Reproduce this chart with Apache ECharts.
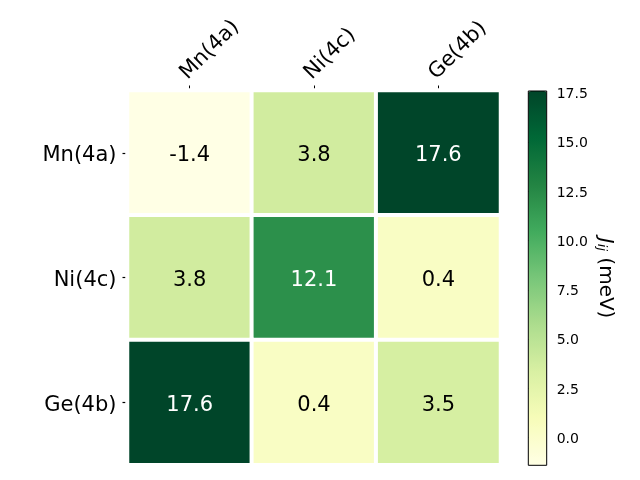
<!DOCTYPE html>
<html>
<head>
<meta charset="utf-8">
<script src="https://cdn.jsdelivr.net/npm/echarts@6/dist/echarts.min.js"></script>
<style>
html,body{margin:0;padding:0;background:#fff;}
#chart{width:640px;height:480px;}
</style>
</head>
<body>
<div id="chart"></div>
<script>
const rowLabels = ['Mn(4a)', 'Ni(4c)', 'Ge(4b)'];
const colLabels = ['Mn(4a)', 'Ni(4c)', 'Ge(4b)'];
const values = [
  [-1.4, 3.8, 17.6],
  [3.8, 12.1, 0.4],
  [17.6, 0.4, 3.5]
];
const cbMin = -1.4;
const cbMax = 17.6;
const cbTicks = [0, 2.5, 5, 7.5, 10, 12.5, 15, 17.5];
const ylGn = ['#ffffe5', '#f7fcb9', '#d9f0a3', '#addd8e', '#78c679', '#41ab5d', '#238443', '#006837', '#004529'];

const threshold = (cbMin + cbMax) / 2;
const data = [];
values.forEach((row, r) => {
  row.forEach((v, c) => {
    data.push({
      value: [c, r, v],
      label: { color: v > threshold ? '#ffffff' : '#000000' }
    });
  });
});

const FONT = 'DejaVu Sans';
const chart = echarts.init(document.getElementById('chart'), null, { renderer: 'canvas' });
chart.setOption({
  animation: false,
  backgroundColor: '#ffffff',
  textStyle: { fontFamily: FONT },
  grid: [
    { left: 127.5, top: 90.5, width: 373, height: 374.2, containLabel: false },
    { left: 528.3, top: 91, width: 18.4, height: 374.3, show: true, borderColor: '#000', borderWidth: 1, backgroundColor: 'transparent', z: 10 }
  ],
  xAxis: [
    {
      gridIndex: 0, type: 'category', data: colLabels, position: 'top',
      axisLine: { show: false },
      axisTick: { show: true, alignWithLabel: true, length: 5, lineStyle: { color: '#000', width: 1 } },
      axisLabel: {
        rotate: -45, align: 'left', verticalAlign: 'bottom', margin: 4, padding: [0, 0, 1, 3],
        fontFamily: FONT, fontSize: 21, color: '#000', interval: 0
      },
      splitLine: { show: false }
    },
    { gridIndex: 1, type: 'value', show: false, min: 0, max: 1 }
  ],
  yAxis: [
    {
      gridIndex: 0, type: 'category', data: rowLabels, inverse: true,
      axisLine: { show: false },
      axisTick: { show: true, alignWithLabel: true, length: 5, lineStyle: { color: '#000', width: 1.2 } },
      axisLabel: {
        margin: 11, fontFamily: FONT, fontSize: 21, color: '#000', interval: 0,
        formatter: v => '{t|' + v + '}',
        rich: { t: { fontFamily: FONT, fontSize: 21, color: '#000', padding: [6, 0, 0, 0] } }
      },
      splitLine: { show: false }
    },
    {
      gridIndex: 1, type: 'value', position: 'right', min: cbMin, max: cbMax,
      axisLine: { show: false },
      axisTick: { show: true, length: 5, customValues: cbTicks, lineStyle: { color: '#000', width: 1 } },
      axisLabel: {
        show: true, margin: 10, fontFamily: FONT, fontSize: 14, color: '#000',
        customValues: cbTicks,
        formatter: v => '{t|' + Number(v).toFixed(1) + '}',
        rich: { t: { fontFamily: FONT, fontSize: 14, color: '#000', padding: [3, 0, 0, 0] } }
      },
      splitLine: { show: false },
      name: '{j|J}{s|ij} (meV)',
      nameLocation: 'middle',
      nameRotate: -90,
      nameGap: 59,
      nameTextStyle: {
        fontFamily: FONT, fontSize: 20, color: '#000', align: 'center', verticalAlign: 'middle',
        rich: {
          j: { fontFamily: FONT, fontSize: 20, fontStyle: 'italic', color: '#000' },
          s: { fontFamily: FONT, fontSize: 13, fontStyle: 'italic', color: '#000', verticalAlign: 'bottom', padding: [8, 0, 0, 0] }
        }
      }
    }
  ],
  visualMap: {
    type: 'continuous',
    min: cbMin, max: cbMax,
    seriesIndex: 0,
    calculable: false,
    hoverLink: false,
    orient: 'vertical',
    left: 528.3, top: 91,
    itemWidth: 18.4, itemHeight: 374.3,
    padding: 0,
    inRange: { color: ylGn },
    textStyle: { color: 'transparent' }
  },
  series: [{
    type: 'heatmap',
    xAxisIndex: 0, yAxisIndex: 0,
    data: data,
    itemStyle: { borderColor: '#ffffff', borderWidth: 4 },
    label: { show: true, fontFamily: FONT, fontSize: 21, offset: [0, 3], formatter: p => p.value[2].toFixed(1) },
    emphasis: { disabled: true }
  }]
});
</script>
</body>
</html>
